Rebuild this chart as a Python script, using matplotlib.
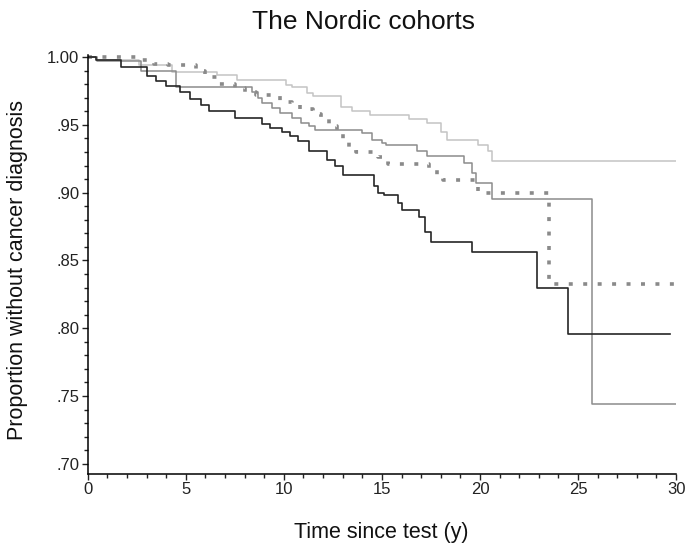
import matplotlib
matplotlib.use("Agg")
import matplotlib.pyplot as plt
from matplotlib.ticker import MultipleLocator, FuncFormatter

plt.rcParams['font.family'] = ['Liberation Sans', 'DejaVu Sans']

# Kaplan-Meier step data (time in years, proportion)
black_t = [0, 0.4, 1.7, 3.0, 3.5, 4.0, 4.7, 5.2, 5.8, 6.2, 7.5, 8.9, 9.3, 9.9,
           10.3, 10.7, 11.3, 12.2, 12.6, 13.0, 14.6, 14.8, 15.1, 15.8, 16.0,
           16.9, 17.2, 17.5, 19.6, 22.9, 24.5, 29.7]
black_v = [1.000, 0.998, 0.993, 0.986, 0.982, 0.979, 0.974, 0.969, 0.965, 0.960,
           0.955, 0.951, 0.948, 0.945, 0.9415, 0.938, 0.931, 0.924, 0.9195, 0.9127,
           0.905, 0.900, 0.898, 0.8927, 0.8872, 0.882, 0.871, 0.8633, 0.8565,
           0.830, 0.796, 0.796]

mid_t = [0, 0.5, 2.7, 4.5, 8.4, 8.7, 8.9, 9.4, 9.8, 10.4, 10.9, 11.3, 11.6,
         14.0, 14.5, 15.0, 15.2, 16.8, 17.3, 19.2, 19.6, 19.8, 20.6, 25.7, 30]
mid_v = [1.000, 0.997, 0.990, 0.978, 0.974, 0.970, 0.966, 0.9626, 0.959, 0.955,
         0.9514, 0.949, 0.9464, 0.944, 0.939, 0.9367, 0.9354, 0.9305, 0.9269,
         0.922, 0.9147, 0.9073, 0.895, 0.744, 0.744]

light_t = [0, 0.5, 2.6, 4.3, 6.6, 7.6, 10.1, 10.4, 11.2, 11.5, 12.9, 13.5, 14.4,
           16.4, 17.3, 18.0, 18.3, 19.9, 20.4, 20.6, 30]
light_v = [1.000, 0.998, 0.994, 0.989, 0.9868, 0.983, 0.9795, 0.978, 0.9734,
           0.971, 0.9635, 0.960, 0.9574, 0.954, 0.9514, 0.945, 0.939, 0.9354,
           0.9305, 0.9232, 0.9232]

dot_t = [0, 2.5, 3.4, 4.1, 5.5, 6.0, 6.6, 7.5, 8.0, 8.6, 9.8, 10.4, 10.8, 11.5,
         11.9, 12.3, 12.7, 13.0, 13.3, 13.7, 14.8, 15.3, 17.4, 17.8, 18.1, 19.9,
         23.5, 30]
dot_v = [1.000, 0.998, 0.995, 0.994, 0.990, 0.985, 0.980, 0.977, 0.974, 0.972,
         0.967, 0.965, 0.962, 0.958, 0.955, 0.949, 0.943, 0.937, 0.932, 0.930,
         0.926, 0.9215, 0.917, 0.913, 0.909, 0.900, 0.8327, 0.8327]

fig = plt.figure(figsize=(6.85, 5.56), dpi=100)
ax = fig.add_axes([0.128, 0.1475, 0.859, 0.7535])

ax.step(light_t, light_v, where='post', color='#c4c4c4', lw=1.1)
ax.step(mid_t, mid_v, where='post', color='#8c8c8c', lw=1.1)
ax.step(dot_t, dot_v, where='post', color='#8a8a8a', lw=2.6,
        linestyle=(0, (1.1, 2.9)))
ax.step(black_t, black_v, where='post', color='#262626', lw=1.2)

ax.set_xlim(0, 30)
ax.set_ylim(0.6925, 1.0015)
ax.xaxis.set_major_locator(MultipleLocator(5))
ax.xaxis.set_minor_locator(MultipleLocator(1))
ax.yaxis.set_major_locator(MultipleLocator(0.05))
ax.yaxis.set_minor_locator(MultipleLocator(0.01))
ax.yaxis.set_major_formatter(FuncFormatter(
    lambda v, p: '1.00' if v > 0.999 else ('%.2f' % v).lstrip('0')))

for s in ['top', 'right']:
    ax.spines[s].set_visible(False)
for s in ['left', 'bottom']:
    ax.spines[s].set_linewidth(1.1)
ax.tick_params(which='major', length=4.3, width=1, labelsize=12, pad=1.8,
               color='#222222', labelcolor='#222222')
ax.tick_params(which='minor', length=3.2, width=1, color='#222222')

fig.text(0.531, 0.96, 'The Nordic cohorts', ha='center', va='center',
         fontsize=19, color='#111111')
fig.text(0.557, 0.043, 'Time since test (y)', ha='center', va='center',
         fontsize=15.5, color='#111111')
fig.text(0.026, 0.515, 'Proportion without cancer diagnosis', ha='center',
         va='center', rotation=90, fontsize=15.5, color='#111111')

fig.savefig('out.png', dpi=100)
